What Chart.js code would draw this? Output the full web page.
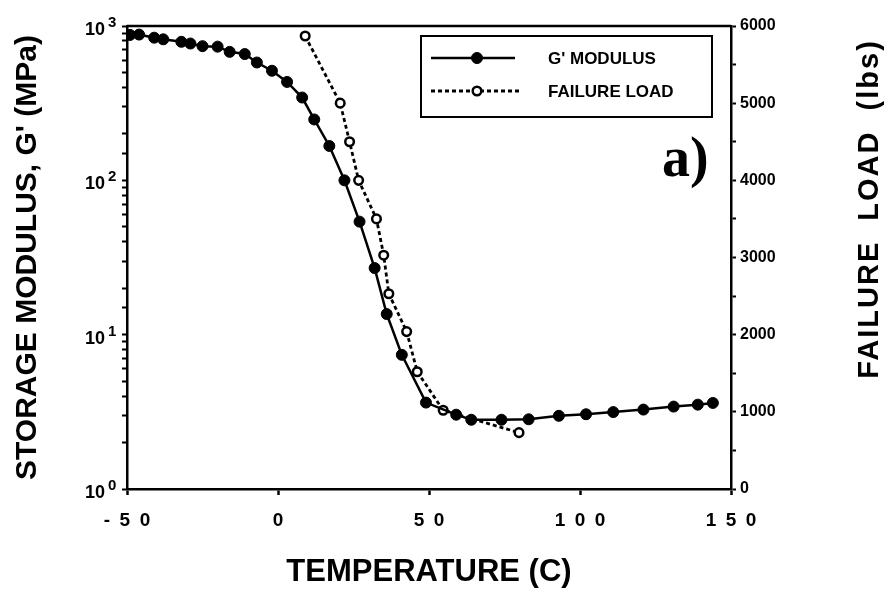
<!DOCTYPE html>
<html>
<head>
<meta charset="utf-8">
<script src="https://cdn.jsdelivr.net/npm/chart.js@4.4.0/dist/chart.umd.min.js"></script>
<style>
    body { margin: 0; background: #fff; }
    #wrap { width: 884px; height: 595px; }
</style>
</head>
<body>
<div id="wrap"><canvas id="myChart" width="884" height="595"></canvas></div>
<script>
//DATA
const gTemp = [-49, -46, -41, -38, -32, -29, -25, -20, -16, -11, -7, -2, 3, 8, 12, 17, 22, 27, 32, 36, 41, 49, 59, 64, 74, 83, 93, 102, 111, 121, 131, 139, 144];
const gModulus = [875, 880, 840, 820, 790, 770, 740, 735, 680, 658, 580, 513, 434, 344, 248, 167, 100, 54, 27, 13.6, 7.4, 3.63, 3.03, 2.81, 2.81, 2.83, 2.98, 3.05, 3.15, 3.27, 3.42, 3.52, 3.61];
const failTemp = [9, 20.6, 23.7, 26.7, 32.6, 35, 36.7, 42.6, 46.1, 54.7, 79.8];
const failLoad = [5870, 5000, 4500, 4000, 3500, 3030, 2530, 2040, 1520, 1020, 730];
const seriesNames = ["G' MODULUS", 'FAILURE LOAD'];
const decadeTicks = [1, 10, 100, 1000];
const decadeExp = ['0', '1', '2', '3'];
const panelLabel = 'a)';

const font = 'Liberation Sans, Arial, sans-serif';
const black = '#000';

const toPoints = (xs, ys) => xs.map((x, i) => ({ x: x, y: ys[i] }));

//LEFT AXIS LABELS 10^n, RIGHT TITLE, FRAME, LEGEND
const extras = {
    id: 'extras',
    afterDraw(chart) {
        const ctx = chart.ctx;
        const area = chart.chartArea;
        const yLog = chart.scales.y;
        ctx.save();
        ctx.fillStyle = black;
        ctx.strokeStyle = black;

        // top frame line
        ctx.lineWidth = 2.5;
        ctx.beginPath();
        ctx.moveTo(area.left, area.top);
        ctx.lineTo(area.right, area.top);
        ctx.stroke();

        // 10^n labels
        for (let i = 0; i < decadeTicks.length; i++) {
            const py = yLog.getPixelForValue(decadeTicks[i]);
            ctx.font = 'bold 18px ' + font;
            ctx.textAlign = 'right';
            ctx.textBaseline = 'middle';
            ctx.fillText('10', area.left - 22, py + 4);
            ctx.font = 'bold 15px ' + font;
            ctx.textAlign = 'left';
            ctx.textBaseline = 'alphabetic';
            ctx.fillText(decadeExp[i], area.left - 19, py + 1);
        }

        // right title, reads bottom to top
        ctx.save();
        ctx.translate(870, 209);
        ctx.rotate(-Math.PI / 2);
        ctx.font = 'bold 29px ' + font;
        ctx.letterSpacing = '2px';
        ctx.textAlign = 'center';
        ctx.textBaseline = 'middle';
        ctx.fillText('FAILURE  LOAD  (lbs)', 0, 0);
        ctx.restore();

        // legend box
        const bx = area.right - 310, by = area.top + 10, bw = 291, bh = 81;
        ctx.lineWidth = 2;
        ctx.strokeRect(bx, by, bw, bh);
        const rows = [by + 22, by + 55];
        chart.data.datasets.forEach((ds, i) => {
            const ly = rows[i];
            ctx.lineWidth = ds.borderWidth;
            ctx.setLineDash(ds.borderDash || []);
            ctx.beginPath();
            ctx.moveTo(bx + 10, ly);
            ctx.lineTo(bx + (i === 0 ? 94 : 100), ly);
            ctx.stroke();
            ctx.setLineDash([]);
            ctx.beginPath();
            ctx.arc(bx + 56, ly, ds.pointRadius, 0, Math.PI * 2);
            ctx.fillStyle = ds.pointBackgroundColor;
            ctx.fill();
            ctx.lineWidth = ds.pointBorderWidth;
            ctx.stroke();
            ctx.fillStyle = black;
            ctx.font = 'bold 17px ' + font;
            ctx.textAlign = 'left';
            ctx.textBaseline = 'middle';
            ctx.fillText(ds.label, bx + 127, ly + 1);
        });

        // panel label
        ctx.font = 'bold 56px Liberation Serif, Times New Roman, serif';
        ctx.textAlign = 'left';
        ctx.textBaseline = 'alphabetic';
        ctx.fillText(panelLabel, area.right - 69, area.top + 150);
        ctx.restore();
    }
};

const ctx = document.getElementById('myChart');

new Chart(ctx, {
    type: 'line',
    data: {
        datasets: [{
            label: seriesNames[0],
            data: toPoints(gTemp, gModulus),
            yAxisID: 'y',
            borderColor: black,
            borderWidth: 2.5,
            pointRadius: 5.5,
            pointBackgroundColor: black,
            pointBorderColor: black,
            pointBorderWidth: 1,
            tension: 0
        }, {
            label: seriesNames[1],
            data: toPoints(failTemp, failLoad),
            yAxisID: 'y2',
            borderColor: black,
            borderWidth: 2.8,
            borderDash: [4, 3],
            pointRadius: 4.3,
            pointBackgroundColor: '#fff',
            pointBorderColor: black,
            pointBorderWidth: 2.5,
            tension: 0
        }]
    },
    options: {
        responsive: false,
        animation: false,
        layout: { padding: { top: 26, left: 0, right: 0, bottom: 0 } },
        plugins: {
            legend: { display: false },
            tooltip: { enabled: false }
        },
        scales: {
            x: {
                type: 'linear',
                min: -50,
                max: 150,
                afterFit: (scale) => { scale.height = 106; },
                grid: { drawOnChartArea: false, tickLength: 6, tickWidth: 2.5, tickColor: black },
                border: { color: black, width: 2.5 },
                ticks: {
                    stepSize: 50,
                    padding: 14,
                    color: black,
                    font: { family: font, size: 19, weight: 'bold' },
                    callback: (v) => String(v).split('').join('\u2002')
                },
                title: {
                    display: true,
                    text: 'TEMPERATURE (C)',
                    color: black,
                    font: { family: font, size: 31, weight: 'bold' },
                    padding: { top: 0, bottom: 4 }
                }
            },
            y: {
                type: 'logarithmic',
                position: 'left',
                min: 1,
                max: 1000,
                afterFit: (scale) => { scale.width = 127; },
                grid: { drawOnChartArea: false, tickLength: 5, tickWidth: 2, tickColor: black },
                border: { color: black, width: 2.5 },
                ticks: {
                    autoSkip: false,
                    display: false
                },
                title: {
                    display: true,
                    text: "STORAGE MODULUS, G' (MPa)",
                    color: black,
                    font: { family: font, size: 30, weight: 'bold' },
                    padding: { top: 10, bottom: 0 }
                }
            },
            y2: {
                type: 'linear',
                position: 'right',
                min: 0,
                max: 6000,
                afterFit: (scale) => { scale.width = 153; },
                grid: { drawOnChartArea: false, tickLength: 5, tickWidth: 2, tickColor: black },
                border: { color: black, width: 2.5 },
                ticks: {
                    stepSize: 500,
                    autoSkip: false,
                    padding: 4,
                    color: black,
                    font: { family: font, size: 16, weight: 'bold' },
                    callback: (v) => (v % 1000 === 0 ? String(v) : '')
                }
            }
        }
    },
    plugins: [extras]
});
</script>
</body>
</html>
